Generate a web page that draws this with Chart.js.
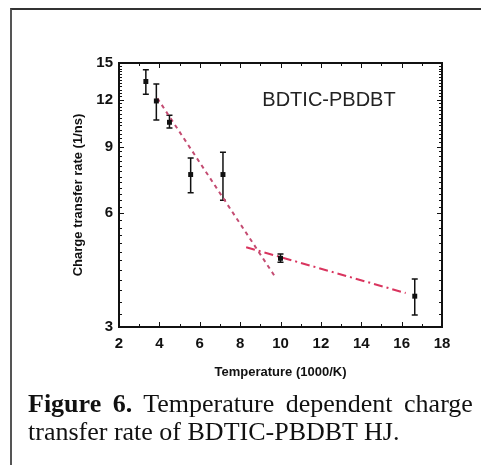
<!DOCTYPE html>
<html>
<head>
<meta charset="utf-8">
<script src="https://cdn.jsdelivr.net/npm/chart.js@4.4.0/dist/chart.umd.min.js"></script>
<style>
  body { margin: 0; background: #fff; }
  #wrap { position: relative; width: 481px; height: 465px; overflow: hidden; background: #fff; }
  #box { position: absolute; left: 10px; top: 8px; width: 480px; height: 470px; border-left: 2px solid #555; border-top: 2px solid #333; }
  #chart { position: absolute; left: 0; top: 0; }
  #caption { position: absolute; left: 28px; top: 390px; font-family: "Liberation Serif", "Times New Roman", serif; font-size: 26px; line-height: 28px; color: #111; white-space: nowrap; }
  #caption .l1 { word-spacing: 5px; }
</style>
</head>
<body>
<div id="wrap">
  <div id="box"></div>
  <canvas id="chart" width="481" height="465"></canvas>
  <div id="caption"><span class="l1"><b>Figure 6.</b> Temperature dependent charge</span><br>transfer rate of BDTIC-PBDBT HJ.</div>
</div>
<script>
// measured rates with error bars
const temps   = [3.33, 3.85, 4.5, 5.55, 7.15, 10.0, 16.65];
const rates   = [13.4, 11.9, 10.45, 7.6, 7.6, 4.56, 3.62];
const errLow  = [12.4, 10.6, 10.1, 6.8, 6.5, 4.45, 3.23];
const errHigh = [14.4, 13.2, 10.9, 8.4, 8.7, 4.68, 4.02];

// fitted lines (high T and low T regimes)
const fitHighX = [3.9, 9.7];
const fitHighY = [12.1, 4.1];
const fitLowX  = [8.3, 16.2];
const fitLowY  = [4.88, 3.69];

const xTicks = [2, 4, 6, 8, 10, 12, 14, 16, 18];
const yTicks = [3, 6, 9, 12, 15];

const tickFont = { family: 'Liberation Sans, Arial, sans-serif', size: 15, weight: 'bold' };
const titleFont = { family: 'Liberation Sans, Arial, sans-serif', size: 13, weight: 'bold' };

// error bars under the markers
const errorBars = {
  id: 'errorBars',
  beforeDatasetsDraw(chart) {
    const { ctx, scales: { x, y } } = chart;
    ctx.save();
    ctx.strokeStyle = '#111';
    ctx.lineWidth = 1.5;
    temps.forEach((t, i) => {
      const px = x.getPixelForValue(t);
      const top = y.getPixelForValue(errHigh[i]);
      const bot = y.getPixelForValue(errLow[i]);
      ctx.beginPath();
      ctx.moveTo(px, top); ctx.lineTo(px, bot);
      ctx.moveTo(px - 3, top); ctx.lineTo(px + 3, top);
      ctx.moveTo(px - 3, bot); ctx.lineTo(px + 3, bot);
      ctx.stroke();
    });
    ctx.restore();
  }
};

// box frame with inward ticks on all four sides
const frame = {
  id: 'frame',
  afterDraw(chart) {
    const { ctx, chartArea: a, scales: { x, y } } = chart;
    ctx.save();
    ctx.strokeStyle = '#111';
    ctx.lineWidth = 1;
    ctx.beginPath();
    for (let v = 2; v <= 18; v++) {
      const px = Math.round(x.getPixelForValue(v)) + 0.5;
      const len = v % 2 === 0 ? 5 : 3;
      ctx.moveTo(px, a.bottom); ctx.lineTo(px, a.bottom - len);
      ctx.moveTo(px, a.top); ctx.lineTo(px, a.top + len);
    }
    for (let v = 3; v <= 15; v += 0.25) {
      const py = Math.round(y.getPixelForValue(v)) + 0.5;
      const len = yTicks.includes(v) ? 5 : 3;
      ctx.moveTo(a.left, py); ctx.lineTo(a.left + len, py);
      ctx.moveTo(a.right, py); ctx.lineTo(a.right - len, py);
    }
    ctx.stroke();
    ctx.lineWidth = 2;
    ctx.strokeRect(a.left, a.top, a.right - a.left, a.bottom - a.top);
    ctx.restore();
  }
};

// series label inside the plot
const seriesLabel = {
  id: 'seriesLabel',
  afterDraw(chart) {
    const { ctx, scales: { x, y } } = chart;
    ctx.save();
    ctx.font = '20px "Liberation Sans", Arial, sans-serif';
    ctx.fillStyle = '#222';
    ctx.textBaseline = 'middle';
    ctx.fillText('BDTIC-PBDBT', x.getPixelForValue(9.1), y.getPixelForValue(11.9));
    ctx.restore();
  }
};

const points = temps.map((t, i) => ({ x: t, y: rates[i] }));
const fitHigh = fitHighX.map((t, i) => ({ x: t, y: fitHighY[i] }));
const fitLow = fitLowX.map((t, i) => ({ x: t, y: fitLowY[i] }));

new Chart(document.getElementById('chart'), {
  type: 'scatter',
  data: {
    datasets: [
      {
        data: points,
        pointStyle: 'rect',
        pointRadius: 3.5,
        backgroundColor: '#111',
        borderColor: '#111',
        borderWidth: 0
      },
      {
        type: 'line',
        data: fitHigh,
        borderColor: '#c44c72',
        borderWidth: 2,
        borderDash: [4, 4],
        pointRadius: 0,
        fill: false
      },
      {
        type: 'line',
        data: fitLow,
        borderColor: '#d9345e',
        borderWidth: 2,
        borderDash: [9, 4, 2, 4],
        pointRadius: 0,
        fill: false
      }
    ]
  },
  options: {
    responsive: false,
    animation: false,
    layout: { padding: { left: 71, right: 39, top: 63, bottom: 85 } },
    plugins: { legend: { display: false }, tooltip: { enabled: false } },
    scales: {
      x: {
        type: 'linear',
        min: 2,
        max: 18,
        afterBuildTicks: scale => { scale.ticks = xTicks.map(v => ({ value: v })); },
        afterFit: scale => { scale.height = 53; },
        ticks: { font: tickFont, color: '#111', padding: 8 },
        grid: { display: false, drawTicks: false },
        border: { display: false },
        title: { display: true, text: 'Temperature (1000/K)', font: titleFont, color: '#111', padding: 0 }
      },
      y: {
        type: 'logarithmic',
        min: 3,
        max: 15,
        afterBuildTicks: scale => { scale.ticks = yTicks.map(v => ({ value: v })); },
        afterFit: scale => { scale.width = 48; },
        ticks: { font: tickFont, color: '#111', padding: 6, callback: v => String(v) },
        grid: { display: false, drawTicks: false },
        border: { display: false },
        title: { display: true, text: 'Charge transfer rate (1/ns)', font: titleFont, color: '#111', padding: 0 }
      }
    }
  },
  plugins: [errorBars, frame, seriesLabel]
});
</script>
</body>
</html>
